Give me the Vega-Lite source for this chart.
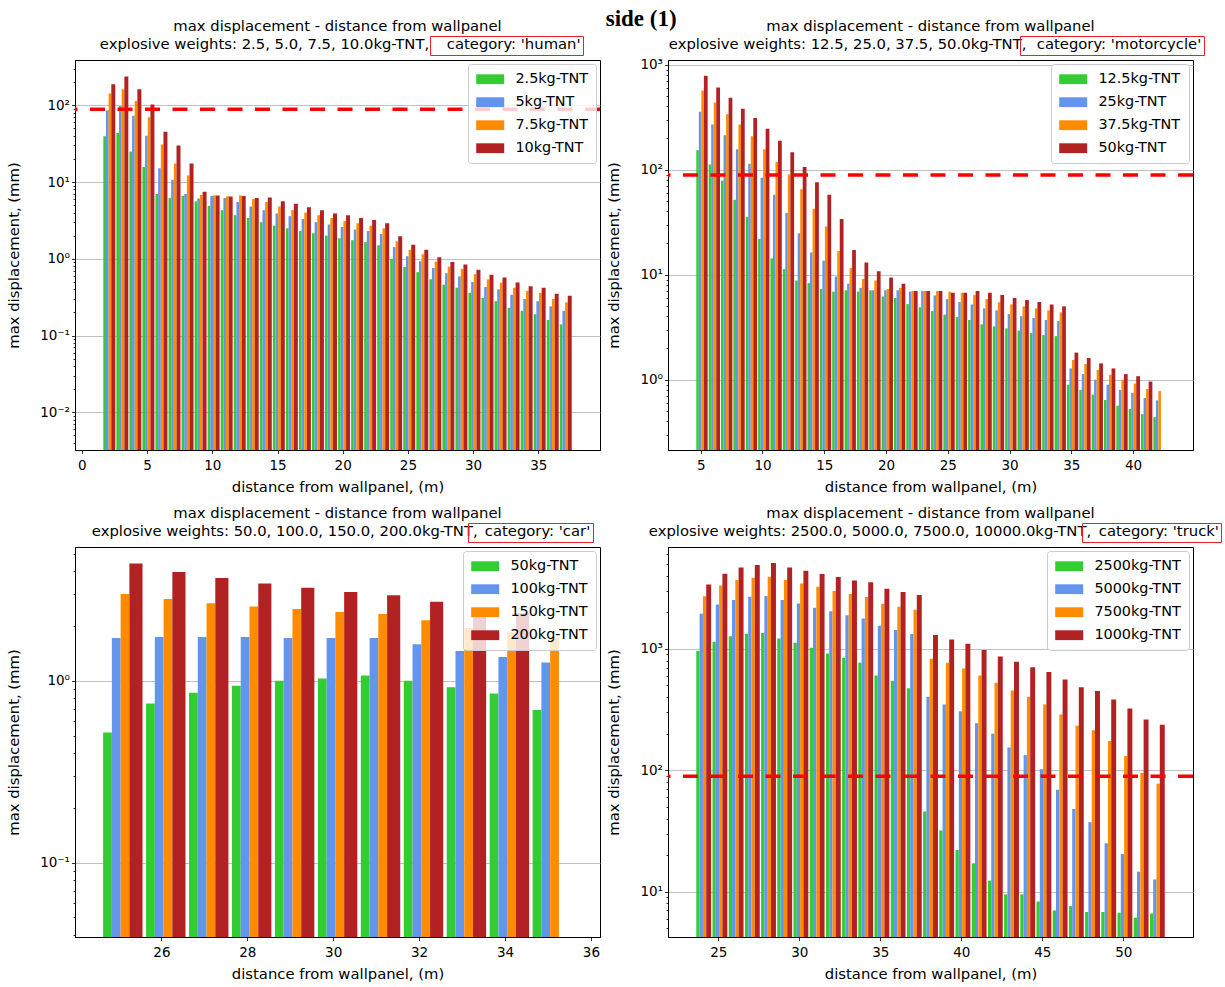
{
  "$schema": "https://vega.github.io/schema/vega-lite/v6.json",
  "background": "#ffffff",
  "padding": {"left": 6, "top": 8, "right": 6, "bottom": 6},
  "title": {"text": "side (1)", "font": "Liberation Serif", "fontSize": 23, "fontWeight": "bold", "color": "#000000", "anchor": "middle", "offset": -13, "dx": 27},
  "columns": 2,
  "spacing": {"row": 97, "column": 68},
  "bounds": "flush",
  "resolve": {"scale": {"x": "independent", "y": "independent", "color": "independent", "shape": "independent"}, "legend": {"color": "independent", "shape": "independent"}},
  "datasets": {
    "limit": [{"disp": 89}],
    "human": [
      {"dist":2,"charge":"2.5kg-TNT","disp":39.6},{"dist":2,"charge":"5kg-TNT","disp":86},{"dist":2,"charge":"7.5kg-TNT","disp":142},{"dist":2,"charge":"10kg-TNT","disp":188},
      {"dist":3,"charge":"2.5kg-TNT","disp":43.5},{"dist":3,"charge":"5kg-TNT","disp":98},{"dist":3,"charge":"7.5kg-TNT","disp":162},{"dist":3,"charge":"10kg-TNT","disp":238},
      {"dist":4,"charge":"2.5kg-TNT","disp":25},{"dist":4,"charge":"5kg-TNT","disp":73},{"dist":4,"charge":"7.5kg-TNT","disp":114},{"dist":4,"charge":"10kg-TNT","disp":162},
      {"dist":5,"charge":"2.5kg-TNT","disp":15.7},{"dist":5,"charge":"5kg-TNT","disp":40},{"dist":5,"charge":"7.5kg-TNT","disp":70},{"dist":5,"charge":"10kg-TNT","disp":102},
      {"dist":6,"charge":"2.5kg-TNT","disp":7.0},{"dist":6,"charge":"5kg-TNT","disp":15.1},{"dist":6,"charge":"7.5kg-TNT","disp":30.9},{"dist":6,"charge":"10kg-TNT","disp":45.2},
      {"dist":7,"charge":"2.5kg-TNT","disp":6.2},{"dist":7,"charge":"5kg-TNT","disp":10.7},{"dist":7,"charge":"7.5kg-TNT","disp":17.4},{"dist":7,"charge":"10kg-TNT","disp":29.9},
      {"dist":8,"charge":"2.5kg-TNT","disp":6.6},{"dist":8,"charge":"5kg-TNT","disp":7.0},{"dist":8,"charge":"7.5kg-TNT","disp":12.2},{"dist":8,"charge":"10kg-TNT","disp":17.4},
      {"dist":9,"charge":"2.5kg-TNT","disp":5.6},{"dist":9,"charge":"5kg-TNT","disp":6.1},{"dist":9,"charge":"7.5kg-TNT","disp":6.8},{"dist":9,"charge":"10kg-TNT","disp":7.5},
      {"dist":10,"charge":"2.5kg-TNT","disp":4.9},{"dist":10,"charge":"5kg-TNT","disp":6.6},{"dist":10,"charge":"7.5kg-TNT","disp":6.7},{"dist":10,"charge":"10kg-TNT","disp":6.7},
      {"dist":11,"charge":"2.5kg-TNT","disp":4.3},{"dist":11,"charge":"5kg-TNT","disp":6.2},{"dist":11,"charge":"7.5kg-TNT","disp":6.5},{"dist":11,"charge":"10kg-TNT","disp":6.5},
      {"dist":12,"charge":"2.5kg-TNT","disp":3.7},{"dist":12,"charge":"5kg-TNT","disp":5.5},{"dist":12,"charge":"7.5kg-TNT","disp":6.7},{"dist":12,"charge":"10kg-TNT","disp":6.6},
      {"dist":13,"charge":"2.5kg-TNT","disp":3.4},{"dist":13,"charge":"5kg-TNT","disp":4.8},{"dist":13,"charge":"7.5kg-TNT","disp":6.0},{"dist":13,"charge":"10kg-TNT","disp":6.2},
      {"dist":14,"charge":"2.5kg-TNT","disp":3.0},{"dist":14,"charge":"5kg-TNT","disp":4.3},{"dist":14,"charge":"7.5kg-TNT","disp":5.5},{"dist":14,"charge":"10kg-TNT","disp":6.3},
      {"dist":15,"charge":"2.5kg-TNT","disp":2.7},{"dist":15,"charge":"5kg-TNT","disp":3.9},{"dist":15,"charge":"7.5kg-TNT","disp":4.8},{"dist":15,"charge":"10kg-TNT","disp":5.6},
      {"dist":16,"charge":"2.5kg-TNT","disp":2.5},{"dist":16,"charge":"5kg-TNT","disp":3.6},{"dist":16,"charge":"7.5kg-TNT","disp":4.3},{"dist":16,"charge":"10kg-TNT","disp":5.2},
      {"dist":17,"charge":"2.5kg-TNT","disp":2.3},{"dist":17,"charge":"5kg-TNT","disp":3.3},{"dist":17,"charge":"7.5kg-TNT","disp":4.0},{"dist":17,"charge":"10kg-TNT","disp":4.7},
      {"dist":18,"charge":"2.5kg-TNT","disp":2.15},{"dist":18,"charge":"5kg-TNT","disp":3.0},{"dist":18,"charge":"7.5kg-TNT","disp":3.7},{"dist":18,"charge":"10kg-TNT","disp":4.3},
      {"dist":19,"charge":"2.5kg-TNT","disp":2.0},{"dist":19,"charge":"5kg-TNT","disp":2.8},{"dist":19,"charge":"7.5kg-TNT","disp":3.4},{"dist":19,"charge":"10kg-TNT","disp":3.9},
      {"dist":20,"charge":"2.5kg-TNT","disp":1.85},{"dist":20,"charge":"5kg-TNT","disp":2.6},{"dist":20,"charge":"7.5kg-TNT","disp":3.1},{"dist":20,"charge":"10kg-TNT","disp":3.7},
      {"dist":21,"charge":"2.5kg-TNT","disp":1.75},{"dist":21,"charge":"5kg-TNT","disp":2.4},{"dist":21,"charge":"7.5kg-TNT","disp":2.9},{"dist":21,"charge":"10kg-TNT","disp":3.4},
      {"dist":22,"charge":"2.5kg-TNT","disp":1.65},{"dist":22,"charge":"5kg-TNT","disp":2.3},{"dist":22,"charge":"7.5kg-TNT","disp":2.7},{"dist":22,"charge":"10kg-TNT","disp":3.2},
      {"dist":23,"charge":"2.5kg-TNT","disp":1.5},{"dist":23,"charge":"5kg-TNT","disp":2.1},{"dist":23,"charge":"7.5kg-TNT","disp":2.5},{"dist":23,"charge":"10kg-TNT","disp":2.9},
      {"dist":24,"charge":"2.5kg-TNT","disp":1.0},{"dist":24,"charge":"5kg-TNT","disp":1.42},{"dist":24,"charge":"7.5kg-TNT","disp":1.69},{"dist":24,"charge":"10kg-TNT","disp":1.96},
      {"dist":25,"charge":"2.5kg-TNT","disp":0.78},{"dist":25,"charge":"5kg-TNT","disp":1.08},{"dist":25,"charge":"7.5kg-TNT","disp":1.31},{"dist":25,"charge":"10kg-TNT","disp":1.53},
      {"dist":26,"charge":"2.5kg-TNT","disp":0.67},{"dist":26,"charge":"5kg-TNT","disp":0.93},{"dist":26,"charge":"7.5kg-TNT","disp":1.15},{"dist":26,"charge":"10kg-TNT","disp":1.31},
      {"dist":27,"charge":"2.5kg-TNT","disp":0.54},{"dist":27,"charge":"5kg-TNT","disp":0.76},{"dist":27,"charge":"7.5kg-TNT","disp":0.92},{"dist":27,"charge":"10kg-TNT","disp":1.05},
      {"dist":28,"charge":"2.5kg-TNT","disp":0.46},{"dist":28,"charge":"5kg-TNT","disp":0.65},{"dist":28,"charge":"7.5kg-TNT","disp":0.79},{"dist":28,"charge":"10kg-TNT","disp":0.91},
      {"dist":29,"charge":"2.5kg-TNT","disp":0.42},{"dist":29,"charge":"5kg-TNT","disp":0.59},{"dist":29,"charge":"7.5kg-TNT","disp":0.74},{"dist":29,"charge":"10kg-TNT","disp":0.84},
      {"dist":30,"charge":"2.5kg-TNT","disp":0.36},{"dist":30,"charge":"5kg-TNT","disp":0.50},{"dist":30,"charge":"7.5kg-TNT","disp":0.63},{"dist":30,"charge":"10kg-TNT","disp":0.72},
      {"dist":31,"charge":"2.5kg-TNT","disp":0.31},{"dist":31,"charge":"5kg-TNT","disp":0.43},{"dist":31,"charge":"7.5kg-TNT","disp":0.54},{"dist":31,"charge":"10kg-TNT","disp":0.62},
      {"dist":32,"charge":"2.5kg-TNT","disp":0.28},{"dist":32,"charge":"5kg-TNT","disp":0.40},{"dist":32,"charge":"7.5kg-TNT","disp":0.49},{"dist":32,"charge":"10kg-TNT","disp":0.57},
      {"dist":33,"charge":"2.5kg-TNT","disp":0.23},{"dist":33,"charge":"5kg-TNT","disp":0.34},{"dist":33,"charge":"7.5kg-TNT","disp":0.42},{"dist":33,"charge":"10kg-TNT","disp":0.49},
      {"dist":34,"charge":"2.5kg-TNT","disp":0.21},{"dist":34,"charge":"5kg-TNT","disp":0.30},{"dist":34,"charge":"7.5kg-TNT","disp":0.38},{"dist":34,"charge":"10kg-TNT","disp":0.44},
      {"dist":35,"charge":"2.5kg-TNT","disp":0.19},{"dist":35,"charge":"5kg-TNT","disp":0.28},{"dist":35,"charge":"7.5kg-TNT","disp":0.36},{"dist":35,"charge":"10kg-TNT","disp":0.42},
      {"dist":36,"charge":"2.5kg-TNT","disp":0.16},{"dist":36,"charge":"5kg-TNT","disp":0.24},{"dist":36,"charge":"7.5kg-TNT","disp":0.30},{"dist":36,"charge":"10kg-TNT","disp":0.35},
      {"dist":37,"charge":"2.5kg-TNT","disp":0.14},{"dist":37,"charge":"5kg-TNT","disp":0.21},{"dist":37,"charge":"7.5kg-TNT","disp":0.27},{"dist":37,"charge":"10kg-TNT","disp":0.33}
    ],
    "motorcycle": [
      {"dist":5,"charge":"12.5kg-TNT","disp":153},{"dist":5,"charge":"25kg-TNT","disp":356},{"dist":5,"charge":"37.5kg-TNT","disp":569},{"dist":5,"charge":"50kg-TNT","disp":785},
      {"dist":6,"charge":"12.5kg-TNT","disp":112},{"dist":6,"charge":"25kg-TNT","disp":269},{"dist":6,"charge":"37.5kg-TNT","disp":437},{"dist":6,"charge":"50kg-TNT","disp":607},
      {"dist":7,"charge":"12.5kg-TNT","disp":78.5},{"dist":7,"charge":"25kg-TNT","disp":213},{"dist":7,"charge":"37.5kg-TNT","disp":338},{"dist":7,"charge":"50kg-TNT","disp":484},
      {"dist":8,"charge":"12.5kg-TNT","disp":51.7},{"dist":8,"charge":"25kg-TNT","disp":157},{"dist":8,"charge":"37.5kg-TNT","disp":269},{"dist":8,"charge":"50kg-TNT","disp":380},
      {"dist":9,"charge":"12.5kg-TNT","disp":35.5},{"dist":9,"charge":"25kg-TNT","disp":114},{"dist":9,"charge":"37.5kg-TNT","disp":208},{"dist":9,"charge":"50kg-TNT","disp":310},
      {"dist":10,"charge":"12.5kg-TNT","disp":21.9},{"dist":10,"charge":"25kg-TNT","disp":84},{"dist":10,"charge":"37.5kg-TNT","disp":157},{"dist":10,"charge":"50kg-TNT","disp":246},
      {"dist":11,"charge":"12.5kg-TNT","disp":14.3},{"dist":11,"charge":"25kg-TNT","disp":57.7},{"dist":11,"charge":"37.5kg-TNT","disp":119},{"dist":11,"charge":"50kg-TNT","disp":189},
      {"dist":12,"charge":"12.5kg-TNT","disp":11.3},{"dist":12,"charge":"25kg-TNT","disp":38.8},{"dist":12,"charge":"37.5kg-TNT","disp":90},{"dist":12,"charge":"50kg-TNT","disp":147},
      {"dist":13,"charge":"12.5kg-TNT","disp":8.8},{"dist":13,"charge":"25kg-TNT","disp":24.8},{"dist":13,"charge":"37.5kg-TNT","disp":65},{"dist":13,"charge":"50kg-TNT","disp":106},
      {"dist":14,"charge":"12.5kg-TNT","disp":8.3},{"dist":14,"charge":"25kg-TNT","disp":16.3},{"dist":14,"charge":"37.5kg-TNT","disp":42.4},{"dist":14,"charge":"50kg-TNT","disp":76},
      {"dist":15,"charge":"12.5kg-TNT","disp":7.3},{"dist":15,"charge":"25kg-TNT","disp":13.6},{"dist":15,"charge":"37.5kg-TNT","disp":28.8},{"dist":15,"charge":"50kg-TNT","disp":57.7},
      {"dist":16,"charge":"12.5kg-TNT","disp":6.9},{"dist":16,"charge":"25kg-TNT","disp":9.6},{"dist":16,"charge":"37.5kg-TNT","disp":16.8},{"dist":16,"charge":"50kg-TNT","disp":34},
      {"dist":17,"charge":"12.5kg-TNT","disp":7.1},{"dist":17,"charge":"25kg-TNT","disp":8.2},{"dist":17,"charge":"37.5kg-TNT","disp":11.6},{"dist":17,"charge":"50kg-TNT","disp":17.2},
      {"dist":18,"charge":"12.5kg-TNT","disp":6.9},{"dist":18,"charge":"25kg-TNT","disp":7.5},{"dist":18,"charge":"37.5kg-TNT","disp":9.1},{"dist":18,"charge":"50kg-TNT","disp":13.1},
      {"dist":19,"charge":"12.5kg-TNT","disp":7.1},{"dist":19,"charge":"25kg-TNT","disp":7.1},{"dist":19,"charge":"37.5kg-TNT","disp":8.8},{"dist":19,"charge":"50kg-TNT","disp":10.8},
      {"dist":20,"charge":"12.5kg-TNT","disp":6.2},{"dist":20,"charge":"25kg-TNT","disp":7.1},{"dist":20,"charge":"37.5kg-TNT","disp":7.3},{"dist":20,"charge":"50kg-TNT","disp":9.4},
      {"dist":21,"charge":"12.5kg-TNT","disp":6.0},{"dist":21,"charge":"25kg-TNT","disp":7.1},{"dist":21,"charge":"37.5kg-TNT","disp":7.5},{"dist":21,"charge":"50kg-TNT","disp":8.2},
      {"dist":22,"charge":"12.5kg-TNT","disp":5.25},{"dist":22,"charge":"25kg-TNT","disp":6.9},{"dist":22,"charge":"37.5kg-TNT","disp":7.0},{"dist":22,"charge":"50kg-TNT","disp":7.0},
      {"dist":23,"charge":"12.5kg-TNT","disp":4.9},{"dist":23,"charge":"25kg-TNT","disp":7.0},{"dist":23,"charge":"37.5kg-TNT","disp":7.0},{"dist":23,"charge":"50kg-TNT","disp":7.0},
      {"dist":24,"charge":"12.5kg-TNT","disp":4.5},{"dist":24,"charge":"25kg-TNT","disp":6.35},{"dist":24,"charge":"37.5kg-TNT","disp":7.0},{"dist":24,"charge":"50kg-TNT","disp":7.0},
      {"dist":25,"charge":"12.5kg-TNT","disp":4.16},{"dist":25,"charge":"25kg-TNT","disp":5.86},{"dist":25,"charge":"37.5kg-TNT","disp":6.9},{"dist":25,"charge":"50kg-TNT","disp":6.74},
      {"dist":26,"charge":"12.5kg-TNT","disp":3.95},{"dist":26,"charge":"25kg-TNT","disp":5.5},{"dist":26,"charge":"37.5kg-TNT","disp":6.74},{"dist":26,"charge":"50kg-TNT","disp":6.74},
      {"dist":27,"charge":"12.5kg-TNT","disp":3.7},{"dist":27,"charge":"25kg-TNT","disp":5.2},{"dist":27,"charge":"37.5kg-TNT","disp":6.4},{"dist":27,"charge":"50kg-TNT","disp":7.0},
      {"dist":28,"charge":"12.5kg-TNT","disp":3.37},{"dist":28,"charge":"25kg-TNT","disp":4.78},{"dist":28,"charge":"37.5kg-TNT","disp":5.86},{"dist":28,"charge":"50kg-TNT","disp":6.74},
      {"dist":29,"charge":"12.5kg-TNT","disp":3.22},{"dist":29,"charge":"25kg-TNT","disp":4.57},{"dist":29,"charge":"37.5kg-TNT","disp":5.46},{"dist":29,"charge":"50kg-TNT","disp":6.4},
      {"dist":30,"charge":"12.5kg-TNT","disp":3.08},{"dist":30,"charge":"25kg-TNT","disp":4.22},{"dist":30,"charge":"37.5kg-TNT","disp":5.21},{"dist":30,"charge":"50kg-TNT","disp":6.0},
      {"dist":31,"charge":"12.5kg-TNT","disp":2.93},{"dist":31,"charge":"25kg-TNT","disp":4.03},{"dist":31,"charge":"37.5kg-TNT","disp":4.99},{"dist":31,"charge":"50kg-TNT","disp":5.74},
      {"dist":32,"charge":"12.5kg-TNT","disp":2.78},{"dist":32,"charge":"25kg-TNT","disp":3.87},{"dist":32,"charge":"37.5kg-TNT","disp":4.78},{"dist":32,"charge":"50kg-TNT","disp":5.5},
      {"dist":33,"charge":"12.5kg-TNT","disp":2.66},{"dist":33,"charge":"25kg-TNT","disp":3.7},{"dist":33,"charge":"37.5kg-TNT","disp":4.57},{"dist":33,"charge":"50kg-TNT","disp":5.21},
      {"dist":34,"charge":"12.5kg-TNT","disp":2.6},{"dist":34,"charge":"25kg-TNT","disp":3.62},{"dist":34,"charge":"37.5kg-TNT","disp":4.37},{"dist":34,"charge":"50kg-TNT","disp":4.99},
      {"dist":35,"charge":"12.5kg-TNT","disp":0.895},{"dist":35,"charge":"25kg-TNT","disp":1.28},{"dist":35,"charge":"37.5kg-TNT","disp":1.54},{"dist":35,"charge":"50kg-TNT","disp":1.81},
      {"dist":36,"charge":"12.5kg-TNT","disp":0.8},{"dist":36,"charge":"25kg-TNT","disp":1.13},{"dist":36,"charge":"37.5kg-TNT","disp":1.41},{"dist":36,"charge":"50kg-TNT","disp":1.61},
      {"dist":37,"charge":"12.5kg-TNT","disp":0.72},{"dist":37,"charge":"25kg-TNT","disp":1.0},{"dist":37,"charge":"37.5kg-TNT","disp":1.24},{"dist":37,"charge":"50kg-TNT","disp":1.43},
      {"dist":38,"charge":"12.5kg-TNT","disp":0.64},{"dist":38,"charge":"25kg-TNT","disp":0.895},{"dist":38,"charge":"37.5kg-TNT","disp":1.11},{"dist":38,"charge":"50kg-TNT","disp":1.28},
      {"dist":39,"charge":"12.5kg-TNT","disp":0.565},{"dist":39,"charge":"25kg-TNT","disp":0.8},{"dist":39,"charge":"37.5kg-TNT","disp":1.0},{"dist":39,"charge":"50kg-TNT","disp":1.13},
      {"dist":40,"charge":"12.5kg-TNT","disp":0.526},{"dist":40,"charge":"25kg-TNT","disp":0.75},{"dist":40,"charge":"37.5kg-TNT","disp":0.92},{"dist":40,"charge":"50kg-TNT","disp":1.08},
      {"dist":41,"charge":"12.5kg-TNT","disp":0.47},{"dist":41,"charge":"25kg-TNT","disp":0.67},{"dist":41,"charge":"37.5kg-TNT","disp":0.815},{"dist":41,"charge":"50kg-TNT","disp":0.96},
      {"dist":42,"charge":"12.5kg-TNT","disp":0.44},{"dist":42,"charge":"25kg-TNT","disp":0.635},{"dist":42,"charge":"37.5kg-TNT","disp":0.78}
    ],
    "car": [
      {"dist":25,"charge":"50kg-TNT","disp":0.52},{"dist":25,"charge":"100kg-TNT","disp":1.72},{"dist":25,"charge":"150kg-TNT","disp":3.0},{"dist":25,"charge":"200kg-TNT","disp":4.41},
      {"dist":26,"charge":"50kg-TNT","disp":0.75},{"dist":26,"charge":"100kg-TNT","disp":1.74},{"dist":26,"charge":"150kg-TNT","disp":2.82},{"dist":26,"charge":"200kg-TNT","disp":3.97},
      {"dist":27,"charge":"50kg-TNT","disp":0.86},{"dist":27,"charge":"100kg-TNT","disp":1.74},{"dist":27,"charge":"150kg-TNT","disp":2.67},{"dist":27,"charge":"200kg-TNT","disp":3.67},
      {"dist":28,"charge":"50kg-TNT","disp":0.94},{"dist":28,"charge":"100kg-TNT","disp":1.74},{"dist":28,"charge":"150kg-TNT","disp":2.56},{"dist":28,"charge":"200kg-TNT","disp":3.43},
      {"dist":29,"charge":"50kg-TNT","disp":1.0},{"dist":29,"charge":"100kg-TNT","disp":1.72},{"dist":29,"charge":"150kg-TNT","disp":2.48},{"dist":29,"charge":"200kg-TNT","disp":3.25},
      {"dist":30,"charge":"50kg-TNT","disp":1.03},{"dist":30,"charge":"100kg-TNT","disp":1.72},{"dist":30,"charge":"150kg-TNT","disp":2.39},{"dist":30,"charge":"200kg-TNT","disp":3.08},
      {"dist":31,"charge":"50kg-TNT","disp":1.07},{"dist":31,"charge":"100kg-TNT","disp":1.72},{"dist":31,"charge":"150kg-TNT","disp":2.33},{"dist":31,"charge":"200kg-TNT","disp":2.95},
      {"dist":32,"charge":"50kg-TNT","disp":1.0},{"dist":32,"charge":"100kg-TNT","disp":1.59},{"dist":32,"charge":"150kg-TNT","disp":2.15},{"dist":32,"charge":"200kg-TNT","disp":2.72},
      {"dist":33,"charge":"50kg-TNT","disp":0.92},{"dist":33,"charge":"100kg-TNT","disp":1.46},{"dist":33,"charge":"150kg-TNT","disp":1.95},{"dist":33,"charge":"200kg-TNT","disp":2.45},
      {"dist":34,"charge":"50kg-TNT","disp":0.85},{"dist":34,"charge":"100kg-TNT","disp":1.35},{"dist":34,"charge":"150kg-TNT","disp":1.85},{"dist":34,"charge":"200kg-TNT","disp":2.35},
      {"dist":35,"charge":"50kg-TNT","disp":0.69},{"dist":35,"charge":"100kg-TNT","disp":1.26},{"dist":35,"charge":"150kg-TNT","disp":1.72}
    ],
    "truck": [
      {"dist":24,"charge":"2500kg-TNT","disp":957},{"dist":24,"charge":"5000kg-TNT","disp":1942},{"dist":24,"charge":"7500kg-TNT","disp":2714},{"dist":24,"charge":"1000kg-TNT","disp":3388},
      {"dist":25,"charge":"2500kg-TNT","disp":1142},{"dist":25,"charge":"5000kg-TNT","disp":2318},{"dist":25,"charge":"7500kg-TNT","disp":3326},{"dist":25,"charge":"1000kg-TNT","disp":4150},
      {"dist":26,"charge":"2500kg-TNT","disp":1271},{"dist":26,"charge":"5000kg-TNT","disp":2518},{"dist":26,"charge":"7500kg-TNT","disp":3680},{"dist":26,"charge":"1000kg-TNT","disp":4677},
      {"dist":27,"charge":"2500kg-TNT","disp":1330},{"dist":27,"charge":"5000kg-TNT","disp":2683},{"dist":27,"charge":"7500kg-TNT","disp":3846},{"dist":27,"charge":"1000kg-TNT","disp":4896},
      {"dist":28,"charge":"2500kg-TNT","disp":1346},{"dist":28,"charge":"5000kg-TNT","disp":2717},{"dist":28,"charge":"7500kg-TNT","disp":3918},{"dist":28,"charge":"1000kg-TNT","disp":5082},
      {"dist":29,"charge":"2500kg-TNT","disp":1216},{"dist":29,"charge":"5000kg-TNT","disp":2518},{"dist":29,"charge":"7500kg-TNT","disp":3680},{"dist":29,"charge":"1000kg-TNT","disp":4677},
      {"dist":30,"charge":"2500kg-TNT","disp":1121},{"dist":30,"charge":"5000kg-TNT","disp":2364},{"dist":30,"charge":"7500kg-TNT","disp":3452},{"dist":30,"charge":"1000kg-TNT","disp":4396},
      {"dist":31,"charge":"2500kg-TNT","disp":1019},{"dist":31,"charge":"5000kg-TNT","disp":2178},{"dist":31,"charge":"7500kg-TNT","disp":3243},{"dist":31,"charge":"1000kg-TNT","disp":4122},
      {"dist":32,"charge":"2500kg-TNT","disp":915},{"dist":32,"charge":"5000kg-TNT","disp":2042},{"dist":32,"charge":"7500kg-TNT","disp":2985},{"dist":32,"charge":"1000kg-TNT","disp":3896},
      {"dist":33,"charge":"2500kg-TNT","disp":843},{"dist":33,"charge":"5000kg-TNT","disp":1893},{"dist":33,"charge":"7500kg-TNT","disp":2823},{"dist":33,"charge":"1000kg-TNT","disp":3656},
      {"dist":34,"charge":"2500kg-TNT","disp":767},{"dist":34,"charge":"5000kg-TNT","disp":1778},{"dist":34,"charge":"7500kg-TNT","disp":2666},{"dist":34,"charge":"1000kg-TNT","disp":3523},
      {"dist":35,"charge":"2500kg-TNT","disp":603},{"dist":35,"charge":"5000kg-TNT","disp":1548},{"dist":35,"charge":"7500kg-TNT","disp":2350},{"dist":35,"charge":"1000kg-TNT","disp":3126},
      {"dist":36,"charge":"2500kg-TNT","disp":545},{"dist":36,"charge":"5000kg-TNT","disp":1426},{"dist":36,"charge":"7500kg-TNT","disp":2219},{"dist":36,"charge":"1000kg-TNT","disp":2931},
      {"dist":37,"charge":"2500kg-TNT","disp":474},{"dist":37,"charge":"5000kg-TNT","disp":1321},{"dist":37,"charge":"7500kg-TNT","disp":2095},{"dist":37,"charge":"1000kg-TNT","disp":2768},
      {"dist":38,"charge":"2500kg-TNT","disp":45.7},{"dist":38,"charge":"5000kg-TNT","disp":402},{"dist":38,"charge":"7500kg-TNT","disp":827},{"dist":38,"charge":"1000kg-TNT","disp":1296},
      {"dist":39,"charge":"2500kg-TNT","disp":31.9},{"dist":39,"charge":"5000kg-TNT","disp":348},{"dist":39,"charge":"7500kg-TNT","disp":767},{"dist":39,"charge":"1000kg-TNT","disp":1194},
      {"dist":40,"charge":"2500kg-TNT","disp":22},{"dist":40,"charge":"5000kg-TNT","disp":306},{"dist":40,"charge":"7500kg-TNT","disp":689},{"dist":40,"charge":"1000kg-TNT","disp":1099},
      {"dist":41,"charge":"2500kg-TNT","disp":17.1},{"dist":41,"charge":"5000kg-TNT","disp":244},{"dist":41,"charge":"7500kg-TNT","disp":603},{"dist":41,"charge":"1000kg-TNT","disp":975},
      {"dist":42,"charge":"2500kg-TNT","disp":12.3},{"dist":42,"charge":"5000kg-TNT","disp":200},{"dist":42,"charge":"7500kg-TNT","disp":525},{"dist":42,"charge":"1000kg-TNT","disp":865},
      {"dist":43,"charge":"2500kg-TNT","disp":9.5},{"dist":43,"charge":"5000kg-TNT","disp":154},{"dist":43,"charge":"7500kg-TNT","disp":454},{"dist":43,"charge":"1000kg-TNT","disp":782},
      {"dist":44,"charge":"2500kg-TNT","disp":9.5},{"dist":44,"charge":"5000kg-TNT","disp":133},{"dist":44,"charge":"7500kg-TNT","disp":402},{"dist":44,"charge":"1000kg-TNT","disp":706},
      {"dist":45,"charge":"2500kg-TNT","disp":8.3},{"dist":45,"charge":"5000kg-TNT","disp":102},{"dist":45,"charge":"7500kg-TNT","disp":348},{"dist":45,"charge":"1000kg-TNT","disp":643},
      {"dist":46,"charge":"2500kg-TNT","disp":7.0},{"dist":46,"charge":"5000kg-TNT","disp":69},{"dist":46,"charge":"7500kg-TNT","disp":288},{"dist":46,"charge":"1000kg-TNT","disp":559},
      {"dist":47,"charge":"2500kg-TNT","disp":7.6},{"dist":47,"charge":"5000kg-TNT","disp":47.9},{"dist":47,"charge":"7500kg-TNT","disp":233},{"dist":47,"charge":"1000kg-TNT","disp":483},
      {"dist":48,"charge":"2500kg-TNT","disp":6.8},{"dist":48,"charge":"5000kg-TNT","disp":37.3},{"dist":48,"charge":"7500kg-TNT","disp":213},{"dist":48,"charge":"1000kg-TNT","disp":448},
      {"dist":49,"charge":"2500kg-TNT","disp":6.8},{"dist":49,"charge":"5000kg-TNT","disp":25},{"dist":49,"charge":"7500kg-TNT","disp":174},{"dist":49,"charge":"1000kg-TNT","disp":382},
      {"dist":50,"charge":"2500kg-TNT","disp":6.7},{"dist":50,"charge":"5000kg-TNT","disp":20.4},{"dist":50,"charge":"7500kg-TNT","disp":131},{"dist":50,"charge":"1000kg-TNT","disp":322},
      {"dist":51,"charge":"2500kg-TNT","disp":6.1},{"dist":51,"charge":"5000kg-TNT","disp":14.6},{"dist":51,"charge":"7500kg-TNT","disp":95},{"dist":51,"charge":"1000kg-TNT","disp":262},
      {"dist":52,"charge":"2500kg-TNT","disp":6.6},{"dist":52,"charge":"5000kg-TNT","disp":12.6},{"dist":52,"charge":"7500kg-TNT","disp":77.5},{"dist":52,"charge":"1000kg-TNT","disp":237}
    ]
  },
  "concat": [
    {
      "width": 525, "height": 390,
      "title": "max displacement - distance from wallpanel",
      "resolve": {"scale": {"shape": "independent"}, "legend": {"shape": "independent"}},
      "layer": [
        {
          "data": {"name": "human"},
          "encoding": {
            "x": {"field": "dist", "type": "quantitative", "scale": {"domain": [-0.145, 39.345], "nice": false, "zero": false}, "axis": {"values": [0, 5, 10, 15, 20, 25, 30, 35], "title": "distance from wallpanel, (m)"}},
            "y": {"field": "disp", "type": "quantitative", "stack": null, "scale": {"type": "log", "domain": [0.00323, 389], "nice": false},
              "axis": {"title": "max displacement, (mm)",
                "values": [0.004,0.005,0.006,0.007,0.008,0.009,0.01,0.02,0.03,0.04,0.05,0.06,0.07,0.08,0.09,0.1,0.2,0.3,0.4,0.5,0.6,0.7,0.8,0.9,1,2,3,4,5,6,7,8,9,10,20,30,40,50,60,70,80,90,100,200,300],
                "labelExpr": "abs(log(datum.value)/LN10 - round(log(datum.value)/LN10)) < 0.000001 ? '10' + replace(replace(replace(replace(replace('' + round(log(datum.value)/LN10), '-', '⁻'), '0', '⁰'), '1', '¹'), '2', '²'), '3', '³') : ''",
                "gridOpacity": {"condition": {"test": "abs(log(datum.value)/LN10 - round(log(datum.value)/LN10)) < 0.000001", "value": 1}, "value": 0},
                "tickSize": {"condition": {"test": "abs(log(datum.value)/LN10 - round(log(datum.value)/LN10)) < 0.000001", "value": 3.5}, "value": 2}}},
            "y2": {"value": "height"},
            "color": {"field": "charge", "type": "nominal", "scale": {"domain": ["2.5kg-TNT", "5kg-TNT", "7.5kg-TNT", "10kg-TNT"], "range": ["#32cd32", "#6495ed", "#ff8c00", "#b22222"]}, "legend": {"title": null}}
          },
          "layer": [
            {"transform": [{"filter": "datum.charge === '2.5kg-TNT'"}], "mark": {"type": "bar", "width": 2.66, "xOffset": -3.32}},
            {"transform": [{"filter": "datum.charge === '5kg-TNT'"}], "mark": {"type": "bar", "width": 2.66, "xOffset": -0.66}},
            {"transform": [{"filter": "datum.charge === '7.5kg-TNT'"}], "mark": {"type": "bar", "width": 2.66, "xOffset": 1.99}},
            {"transform": [{"filter": "datum.charge === '10kg-TNT'"}], "mark": {"type": "bar", "width": 3.99, "xOffset": 5.32}}
          ]
        },
        {"data": {"name": "limit"}, "mark": {"type": "rule", "color": "#ff0000", "strokeWidth": 3.5, "strokeDash": [15, 12.5]}, "encoding": {"y": {"field": "disp", "type": "quantitative"}}},
        {"data": {"values": [{"weights": "2.5, 5.0, 7.5, 10.0"}]}, "mark": {"type": "point", "opacity": 0},
          "encoding": {"shape": {"field": "weights", "type": "nominal", "legend": {"title": null, "orient": "none", "legendX": 8, "legendY": -24, "strokeColor": "transparent", "fillColor": "transparent", "padding": 2, "symbolSize": 0.01, "symbolOpacity": 0, "symbolOffset": 0, "labelOffset": 0, "labelLimit": 700, "labelFontSize": 14.8, "labelExpr": "'explosive weights: ' + datum.label + 'kg-TNT,'"}}}},
        {"data": {"values": [{"category": "human"}]}, "mark": {"type": "point", "opacity": 0},
          "encoding": {"shape": {"field": "category", "type": "nominal", "legend": {"title": null, "orient": "none", "legendX": 355, "legendY": -24, "strokeColor": "#e8202a", "fillColor": "transparent", "cornerRadius": 0, "padding": 2, "symbolSize": 0.01, "symbolOpacity": 0, "symbolOffset": 0, "labelOffset": 0, "labelLimit": 700, "labelFontSize": 14.8, "labelExpr": "\"category: '\" + datum.label + \"'\"", "encode": {"legend": {"update": {"strokeWidth": {"value": 2}}}}}}}}
      ]
    },
    {
      "width": 525, "height": 390,
      "title": "max displacement - distance from wallpanel",
      "resolve": {"scale": {"shape": "independent"}, "legend": {"shape": "independent"}},
      "layer": [
        {
          "data": {"name": "motorcycle"},
          "encoding": {
            "x": {"field": "dist", "type": "quantitative", "scale": {"domain": [2.755, 44.445], "nice": false, "zero": false}, "axis": {"values": [5, 10, 15, 20, 25, 30, 35, 40], "title": "distance from wallpanel, (m)"}},
            "y": {"field": "disp", "type": "quantitative", "stack": null, "scale": {"type": "log", "domain": [0.214, 1109], "nice": false},
              "axis": {"title": "max displacement, (mm)",
                "values": [0.3,0.4,0.5,0.6,0.7,0.8,0.9,1,2,3,4,5,6,7,8,9,10,20,30,40,50,60,70,80,90,100,200,300,400,500,600,700,800,900,1000],
                "labelExpr": "abs(log(datum.value)/LN10 - round(log(datum.value)/LN10)) < 0.000001 ? '10' + replace(replace(replace(replace(replace('' + round(log(datum.value)/LN10), '-', '⁻'), '0', '⁰'), '1', '¹'), '2', '²'), '3', '³') : ''",
                "gridOpacity": {"condition": {"test": "abs(log(datum.value)/LN10 - round(log(datum.value)/LN10)) < 0.000001", "value": 1}, "value": 0},
                "tickSize": {"condition": {"test": "abs(log(datum.value)/LN10 - round(log(datum.value)/LN10)) < 0.000001", "value": 3.5}, "value": 2}}},
            "y2": {"value": "height"},
            "color": {"field": "charge", "type": "nominal", "scale": {"domain": ["12.5kg-TNT", "25kg-TNT", "37.5kg-TNT", "50kg-TNT"], "range": ["#32cd32", "#6495ed", "#ff8c00", "#b22222"]}, "legend": {"title": null}}
          },
          "layer": [
            {"transform": [{"filter": "datum.charge === '12.5kg-TNT'"}], "mark": {"type": "bar", "width": 2.52, "xOffset": -3.15}},
            {"transform": [{"filter": "datum.charge === '25kg-TNT'"}], "mark": {"type": "bar", "width": 2.52, "xOffset": -0.63}},
            {"transform": [{"filter": "datum.charge === '37.5kg-TNT'"}], "mark": {"type": "bar", "width": 2.52, "xOffset": 1.89}},
            {"transform": [{"filter": "datum.charge === '50kg-TNT'"}], "mark": {"type": "bar", "width": 3.78, "xOffset": 5.04}}
          ]
        },
        {"data": {"name": "limit"}, "mark": {"type": "rule", "color": "#ff0000", "strokeWidth": 3.5, "strokeDash": [15, 12.5]}, "encoding": {"y": {"field": "disp", "type": "quantitative"}}},
        {"data": {"values": [{"weights": "12.5, 25.0, 37.5, 50.0"}]}, "mark": {"type": "point", "opacity": 0},
          "encoding": {"shape": {"field": "weights", "type": "nominal", "legend": {"title": null, "orient": "none", "legendX": -16, "legendY": -24, "strokeColor": "transparent", "fillColor": "transparent", "padding": 2, "symbolSize": 0.01, "symbolOpacity": 0, "symbolOffset": 0, "labelOffset": 0, "labelLimit": 700, "labelFontSize": 14.8, "labelExpr": "'explosive weights: ' + datum.label + 'kg-TNT,'"}}}},
        {"data": {"values": [{"category": "motorcycle"}]}, "mark": {"type": "point", "opacity": 0},
          "encoding": {"shape": {"field": "category", "type": "nominal", "legend": {"title": null, "orient": "none", "legendX": 352, "legendY": -24, "strokeColor": "#e8202a", "fillColor": "transparent", "cornerRadius": 0, "padding": 2, "symbolSize": 0.01, "symbolOpacity": 0, "symbolOffset": 0, "labelOffset": 0, "labelLimit": 700, "labelFontSize": 14.8, "labelExpr": "\"category: '\" + datum.label + \"'\"", "encode": {"legend": {"update": {"strokeWidth": {"value": 2}}}}}}}}
      ]
    },
    {
      "width": 525, "height": 390,
      "title": "max displacement - distance from wallpanel",
      "resolve": {"scale": {"shape": "independent"}, "legend": {"shape": "independent"}},
      "layer": [
        {
          "data": {"name": "car"},
          "encoding": {
            "x": {"field": "dist", "type": "quantitative", "scale": {"domain": [24.105, 36.095], "nice": false, "zero": false}, "axis": {"values": [26, 28, 30, 32, 34, 36], "title": "distance from wallpanel, (m)"}},
            "y": {"field": "disp", "type": "quantitative", "stack": null, "scale": {"type": "log", "domain": [0.039, 5.44], "nice": false},
              "axis": {"title": "max displacement, (mm)",
                "values": [0.04,0.05,0.06,0.07,0.08,0.09,0.1,0.2,0.3,0.4,0.5,0.6,0.7,0.8,0.9,1,2,3,4,5],
                "labelExpr": "abs(log(datum.value)/LN10 - round(log(datum.value)/LN10)) < 0.000001 ? '10' + replace(replace(replace(replace(replace('' + round(log(datum.value)/LN10), '-', '⁻'), '0', '⁰'), '1', '¹'), '2', '²'), '3', '³') : ''",
                "gridOpacity": {"condition": {"test": "abs(log(datum.value)/LN10 - round(log(datum.value)/LN10)) < 0.000001", "value": 1}, "value": 0},
                "tickSize": {"condition": {"test": "abs(log(datum.value)/LN10 - round(log(datum.value)/LN10)) < 0.000001", "value": 3.5}, "value": 2}}},
            "y2": {"value": "height"},
            "color": {"field": "charge", "type": "nominal", "scale": {"domain": ["50kg-TNT", "100kg-TNT", "150kg-TNT", "200kg-TNT"], "range": ["#32cd32", "#6495ed", "#ff8c00", "#b22222"]}, "legend": {"title": null}}
          },
          "layer": [
            {"transform": [{"filter": "datum.charge === '50kg-TNT'"}], "mark": {"type": "bar", "width": 8.76, "xOffset": -10.95}},
            {"transform": [{"filter": "datum.charge === '100kg-TNT'"}], "mark": {"type": "bar", "width": 8.76, "xOffset": -2.19}},
            {"transform": [{"filter": "datum.charge === '150kg-TNT'"}], "mark": {"type": "bar", "width": 8.76, "xOffset": 6.57}},
            {"transform": [{"filter": "datum.charge === '200kg-TNT'"}], "mark": {"type": "bar", "width": 13.14, "xOffset": 17.52}}
          ]
        },
        {"data": {"values": [{"weights": "50.0, 100.0, 150.0, 200.0"}]}, "mark": {"type": "point", "opacity": 0},
          "encoding": {"shape": {"field": "weights", "type": "nominal", "legend": {"title": null, "orient": "none", "legendX": 0, "legendY": -24, "strokeColor": "transparent", "fillColor": "transparent", "padding": 2, "symbolSize": 0.01, "symbolOpacity": 0, "symbolOffset": 0, "labelOffset": 0, "labelLimit": 700, "labelFontSize": 14.8, "labelExpr": "'explosive weights: ' + datum.label + 'kg-TNT,'"}}}},
        {"data": {"values": [{"category": "car"}]}, "mark": {"type": "point", "opacity": 0},
          "encoding": {"shape": {"field": "category", "type": "nominal", "legend": {"title": null, "orient": "none", "legendX": 393, "legendY": -24, "strokeColor": "#e8202a", "fillColor": "transparent", "cornerRadius": 0, "padding": 2, "symbolSize": 0.01, "symbolOpacity": 0, "symbolOffset": 0, "labelOffset": 0, "labelLimit": 700, "labelFontSize": 14.8, "labelExpr": "\"category: '\" + datum.label + \"'\"", "encode": {"legend": {"update": {"strokeWidth": {"value": 2}}}}}}}}
      ]
    },
    {
      "width": 525, "height": 390,
      "title": "max displacement - distance from wallpanel",
      "resolve": {"scale": {"shape": "independent"}, "legend": {"shape": "independent"}},
      "layer": [
        {
          "data": {"name": "truck"},
          "encoding": {
            "x": {"field": "dist", "type": "quantitative", "scale": {"domain": [22.205, 53.995], "nice": false, "zero": false}, "axis": {"values": [25, 30, 35, 40, 45, 50], "title": "distance from wallpanel, (m)"}},
            "y": {"field": "disp", "type": "quantitative", "stack": null, "scale": {"type": "log", "domain": [4.23, 6890], "nice": false},
              "axis": {"title": "max displacement, (mm)",
                "values": [5,6,7,8,9,10,20,30,40,50,60,70,80,90,100,200,300,400,500,600,700,800,900,1000,2000,3000,4000,5000,6000],
                "labelExpr": "abs(log(datum.value)/LN10 - round(log(datum.value)/LN10)) < 0.000001 ? '10' + replace(replace(replace(replace(replace('' + round(log(datum.value)/LN10), '-', '⁻'), '0', '⁰'), '1', '¹'), '2', '²'), '3', '³') : ''",
                "gridOpacity": {"condition": {"test": "abs(log(datum.value)/LN10 - round(log(datum.value)/LN10)) < 0.000001", "value": 1}, "value": 0},
                "tickSize": {"condition": {"test": "abs(log(datum.value)/LN10 - round(log(datum.value)/LN10)) < 0.000001", "value": 3.5}, "value": 2}}},
            "y2": {"value": "height"},
            "color": {"field": "charge", "type": "nominal", "scale": {"domain": ["2500kg-TNT", "5000kg-TNT", "7500kg-TNT", "1000kg-TNT"], "range": ["#32cd32", "#6495ed", "#ff8c00", "#b22222"]}, "legend": {"title": null}}
          },
          "layer": [
            {"transform": [{"filter": "datum.charge === '2500kg-TNT'"}], "mark": {"type": "bar", "width": 3.30, "xOffset": -4.13}},
            {"transform": [{"filter": "datum.charge === '5000kg-TNT'"}], "mark": {"type": "bar", "width": 3.30, "xOffset": -0.83}},
            {"transform": [{"filter": "datum.charge === '7500kg-TNT'"}], "mark": {"type": "bar", "width": 3.30, "xOffset": 2.48}},
            {"transform": [{"filter": "datum.charge === '1000kg-TNT'"}], "mark": {"type": "bar", "width": 4.95, "xOffset": 6.60}}
          ]
        },
        {"data": {"name": "limit"}, "mark": {"type": "rule", "color": "#ff0000", "strokeWidth": 3.5, "strokeDash": [15, 12.5]}, "encoding": {"y": {"field": "disp", "type": "quantitative"}}},
        {"data": {"values": [{"weights": "2500.0, 5000.0, 7500.0, 10000.0"}]}, "mark": {"type": "point", "opacity": 0},
          "encoding": {"shape": {"field": "weights", "type": "nominal", "legend": {"title": null, "orient": "none", "legendX": -36, "legendY": -24, "strokeColor": "transparent", "fillColor": "transparent", "padding": 2, "symbolSize": 0.01, "symbolOpacity": 0, "symbolOffset": 0, "labelOffset": 0, "labelLimit": 700, "labelFontSize": 14.8, "labelExpr": "'explosive weights: ' + datum.label + 'kg-TNT,'"}}}},
        {"data": {"values": [{"category": "truck"}]}, "mark": {"type": "point", "opacity": 0},
          "encoding": {"shape": {"field": "category", "type": "nominal", "legend": {"title": null, "orient": "none", "legendX": 414, "legendY": -24, "strokeColor": "#e8202a", "fillColor": "transparent", "cornerRadius": 0, "padding": 2, "symbolSize": 0.01, "symbolOpacity": 0, "symbolOffset": 0, "labelOffset": 0, "labelLimit": 700, "labelFontSize": 14.8, "labelExpr": "\"category: '\" + datum.label + \"'\"", "encode": {"legend": {"update": {"strokeWidth": {"value": 2}}}}}}}}
      ]
    }
  ],
  "config": {
    "font": "DejaVu Sans",
    "view": {"stroke": "#000000", "strokeWidth": 1},
    "axis": {
      "labelFont": "DejaVu Sans", "labelFontSize": 13.5, "labelColor": "#000000", "labelOverlap": false, "labelFlush": false,
      "titleFont": "DejaVu Sans", "titleFontSize": 14.8, "titleFontWeight": "normal", "titleColor": "#000000",
      "domain": true, "domainColor": "#000000", "domainWidth": 1,
      "tickColor": "#000000", "tickWidth": 0.8, "tickSize": 3.5, "labelPadding": 2, "titlePadding": 18,
      "gridColor": "#b0b0b0", "gridWidth": 0.8, "zindex": 1
    },
    "axisX": {"grid": false, "labelPadding": 5, "titlePadding": 7},
    "legend": {
      "orient": "top-right", "offset": 4,
      "labelFont": "DejaVu Sans", "labelFontSize": 14.4, "labelColor": "#000000",
      "fillColor": "rgba(255,255,255,0.8)", "strokeColor": "#cccccc", "cornerRadius": 3, "padding": 8,
      "symbolType": "M-2,-0.7L2,-0.7L2,0.7L-2,0.7Z", "symbolSize": 196, "symbolStrokeWidth": 0, "symbolOpacity": 1,
      "symbolOffset": 7, "labelOffset": 18, "rowPadding": 8
    },
    "title": {"font": "DejaVu Sans", "fontSize": 14.8, "fontWeight": "normal", "color": "#000000", "offset": 2}
  }
}
